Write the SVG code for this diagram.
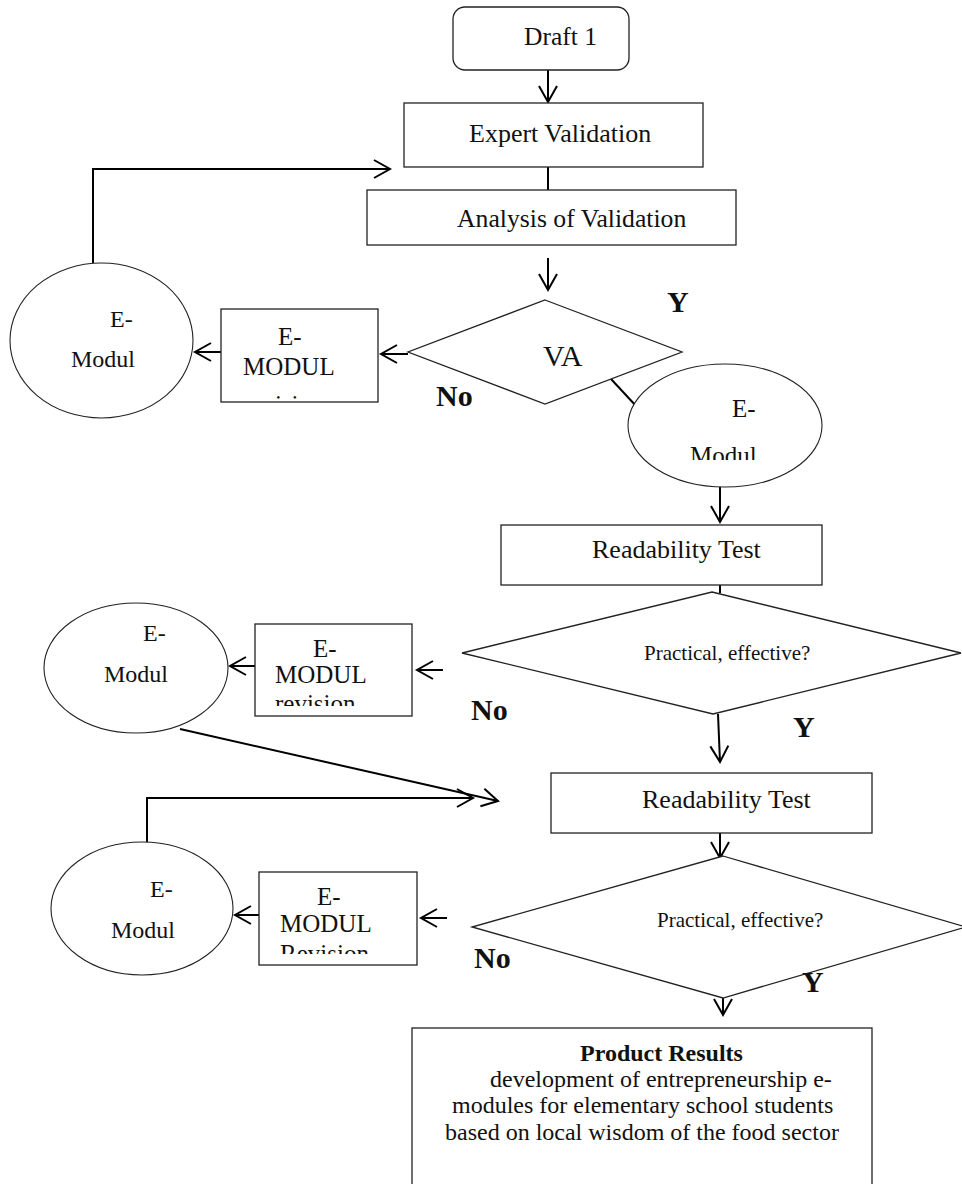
<svg xmlns="http://www.w3.org/2000/svg" width="962" height="1184" viewBox="0 0 962 1184">
<style>
.bx{fill:#fff;stroke:#222;stroke-width:1.3}
.el{fill:#fff;stroke:#222;stroke-width:1.1}
.t{font-family:"Liberation Serif","Times New Roman",serif;fill:#111}
.cn{fill:none;stroke:#000;stroke-width:2}
.b{font-weight:bold}
</style>
<defs>
<marker id="ah" markerUnits="userSpaceOnUse" viewBox="-20 -12 24 24" markerWidth="24" markerHeight="24" refX="0" refY="0" orient="auto">
<path d="M-16,-9 L0,0 L-16,9" fill="none" stroke="#000" stroke-width="2"/>
</marker>
<clipPath id="cpb1"><rect x="221" y="309" width="157" height="91"/></clipPath>
<clipPath id="cpb2"><rect x="255" y="624" width="157" height="82"/></clipPath>
<clipPath id="cpb3"><rect x="259" y="872" width="158" height="82"/></clipPath>
<clipPath id="cpe2"><rect x="628" y="364" width="194" height="96"/></clipPath>
</defs>

<g id="connectors">
<path class="cn" d="M548,70 L548,102" marker-end="url(#ah)"/>
<path class="cn" d="M548,167 L548,196"/>
<path class="cn" d="M548,258 L548,290" marker-end="url(#ah)"/>
<path class="cn" d="M408,354 L381,354" marker-end="url(#ah)"/>
<path class="cn" d="M221,352 L195,352" marker-end="url(#ah)"/>
<path class="cn" d="M93,272 L93,169 L390,169" marker-end="url(#ah)"/>
<path class="cn" d="M611,379 L637,407"/>
<path class="cn" d="M720,487 L720,522" marker-end="url(#ah)"/>
<path class="cn" d="M720,585 L720,593"/>
<path class="cn" d="M443,670 L417,670" marker-end="url(#ah)"/>
<path class="cn" d="M255,666 L230,666" marker-end="url(#ah)"/>
<path class="cn" d="M180,729 L498,801" marker-end="url(#ah)"/>
<path class="cn" d="M147,842 L147,798 L473,798" marker-end="url(#ah)"/>
<path class="cn" d="M718,714 L720,762" marker-end="url(#ah)"/>
<path class="cn" d="M720,833 L720,858" marker-end="url(#ah)"/>
<path class="cn" d="M447,918 L421,918" marker-end="url(#ah)"/>
<path class="cn" d="M259,915 L235,915" marker-end="url(#ah)"/>
<path class="cn" d="M723,997 L723,1015" marker-end="url(#ah)"/>
</g>

<g id="draft1">
<rect class="bx" x="453" y="7" width="176" height="63" rx="12"/>
<text class="t" x="524" y="45" font-size="25.5">Draft 1</text>
</g>
<g id="expert-validation">
<rect class="bx" x="404" y="103" width="299" height="64"/>
<text class="t" x="469" y="142" font-size="26">Expert Validation</text>
</g>
<g id="analysis">
<rect class="bx" x="367" y="190" width="369" height="55"/>
<text class="t" x="457" y="227" font-size="25.7">Analysis of Validation</text>
</g>
<g id="va">
<polygon class="bx" points="545,300 682,352 545,404 408,352"/>
<text class="t" x="543" y="366" font-size="30">VA</text>
<text class="t b" x="667" y="312" font-size="30">Y</text>
<text class="t b" x="436" y="406" font-size="30">No</text>
</g>
<g id="emodul-box1">
<rect class="bx" x="221" y="309" width="157" height="93"/>
<g clip-path="url(#cpb1)">
<text class="t" x="278" y="345" font-size="25">E-</text>
<text class="t" x="243" y="375" font-size="25">MODUL</text>
<text class="t" x="243" y="413" font-size="25">revision</text>
</g>
</g>
<g id="emodul-ellipse1">
<ellipse class="el" cx="101.5" cy="340.5" rx="91.5" ry="77.5"/>
<text class="t" x="110" y="327" font-size="24">E-</text>
<text class="t" x="71" y="367" font-size="24">Modul</text>
</g>
<g id="emodul-ellipse2">
<ellipse class="el" cx="725" cy="425.5" rx="97" ry="61.5"/>
<g clip-path="url(#cpe2)">
<text class="t" x="732" y="417" font-size="25">E-</text>
<text class="t" x="690" y="464" font-size="25">Modul</text>
</g>
</g>
<g id="readability1">
<rect class="bx" x="501" y="525" width="321" height="60"/>
<text class="t" x="592" y="558" font-size="26">Readability Test</text>
</g>
<g id="decision2">
<polygon class="bx" points="712,592 961,653 713,714 462,653"/>
<text class="t" x="644" y="660" font-size="21">Practical, effective?</text>
<text class="t b" x="471" y="720" font-size="30">No</text>
<text class="t b" x="793" y="737" font-size="30">Y</text>
</g>
<g id="emodul-box2">
<rect class="bx" x="255" y="624" width="157" height="92"/>
<g clip-path="url(#cpb2)">
<text class="t" x="313" y="657" font-size="25">E-</text>
<text class="t" x="275" y="683" font-size="25">MODUL</text>
<text class="t" x="275" y="712" font-size="25">revision</text>
</g>
</g>
<g id="emodul-ellipse3">
<ellipse class="el" cx="136" cy="668" rx="92" ry="65"/>
<text class="t" x="143" y="641" font-size="24">E-</text>
<text class="t" x="104" y="682" font-size="24">Modul</text>
</g>
<g id="readability2">
<rect class="bx" x="551" y="773" width="321" height="60"/>
<text class="t" x="642" y="808" font-size="26">Readability Test</text>
</g>
<g id="decision3">
<polygon class="bx" points="723,856 966,927 723,998 472,927"/>
<text class="t" x="657" y="927" font-size="21">Practical, effective?</text>
<text class="t b" x="474" y="968" font-size="30">No</text>
<text class="t b" x="802" y="992" font-size="30">Y</text>
</g>
<g id="emodul-box3">
<rect class="bx" x="259" y="872" width="158" height="93"/>
<g clip-path="url(#cpb3)">
<text class="t" x="317" y="905" font-size="25">E-</text>
<text class="t" x="280" y="932" font-size="25">MODUL</text>
<text class="t" x="280" y="962" font-size="25">Revision</text>
</g>
</g>
<g id="emodul-ellipse4">
<ellipse class="el" cx="142" cy="908.5" rx="91" ry="66.5"/>
<text class="t" x="150" y="897" font-size="24">E-</text>
<text class="t" x="111" y="938" font-size="24">Modul</text>
</g>
<g id="product-results">
<rect class="bx" x="412" y="1028" width="460" height="170"/>
<text class="t b" x="580" y="1061" font-size="24">Product Results</text>
<text class="t" x="490" y="1087" font-size="24">development of entrepreneurship e-</text>
<text class="t" x="452" y="1113" font-size="24">modules for elementary school students</text>
<text class="t" x="445" y="1140" font-size="24">based on local wisdom of the food sector</text>
</g>
</svg>
